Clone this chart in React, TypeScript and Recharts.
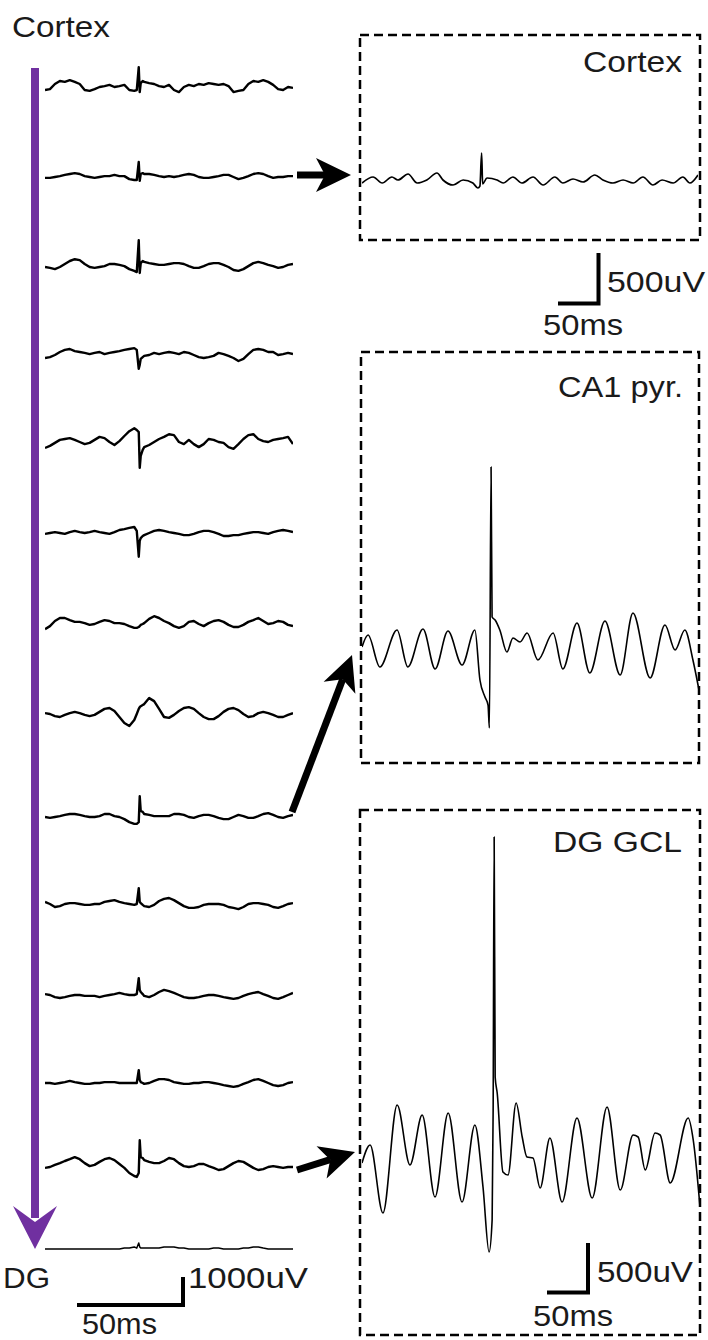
import React from "react";
import { LineChart, Line, XAxis, YAxis } from "recharts";

// time base for the depth profile (0-100 = full sweep, denser around the spike)
const T_LEFT = [
  0, 2, 4, 6, 8, 10, 12, 14, 16, 18, 20, 22, 24, 26, 28, 30, 32, 34, 36,
  37, 37.8, 38.2, 38.6, 39.4,
  40, 42, 44, 46, 48, 50, 52, 54, 56, 58, 60, 62, 64, 66, 68, 70, 72, 74, 76, 78, 80, 82, 84, 86, 88, 90, 92, 94, 96, 98, 100,
];

// LFP per channel, uV, cortex (CH01) down to DG (CH14)
const CH01 = [-100, -70, 100, 200, 170, 230, 170, 100, -100, -130, -70, 0, 30, 70, 0, 30, 70, -100, -130, -100, 660, -170, 130, 200, 170, 130, 100, 30, 0, 70, -100, -170, 0, 70, 30, 100, 70, 130, 100, 70, 100, 30, -170, -130, -100, 100, 200, 170, 230, 170, 70, -70, -100, 0, -30];
const CH02 = [-30, -30, 0, 30, 70, 100, 130, 100, 30, 0, -30, 0, 30, 30, 70, 30, 30, -70, -100, -100, 500, -130, 100, 130, 100, 100, 70, 30, 0, 30, 0, 30, 70, 100, 70, 0, -30, -30, 0, 30, 70, 70, 0, -70, -30, 30, 100, 130, 100, 30, -30, 0, 0, 30, 30];
const CH03 = [0, -30, -70, 0, 100, 200, 260, 230, 100, 0, -30, 0, 30, 100, 100, 70, 30, -70, -130, -170, 890, -200, 130, 200, 170, 130, 100, 70, 70, 100, 130, 130, 100, 30, -30, -30, 30, 100, 130, 130, 70, 0, -100, -130, -70, 30, 130, 170, 130, 70, 30, -30, 0, 70, 100];
const CH04 = [-100, -70, 0, 100, 170, 200, 130, 100, 70, 30, 70, 100, 30, 70, 100, 130, 170, 200, 230, 170, -460, -330, -130, -70, -30, 0, 70, 30, 70, 100, 70, 30, 100, 70, 0, -70, -100, -70, -30, 70, 30, -30, -100, -200, -130, 30, 170, 200, 170, 100, 100, 0, 30, 70, 30];
const CH05 = [-200, -130, -30, 70, 100, 130, 70, 0, -70, -30, 70, 170, 130, 0, -100, 30, 200, 360, 460, 400, 330, -860, -460, -260, -170, -100, 0, 100, 170, 260, 230, 0, -70, 70, -70, -170, -70, 100, 70, 0, -30, -170, -230, -70, 100, 230, 260, 100, 30, 0, 70, 100, 130, 170, -70];
const CH06 = [-30, 0, 30, 0, -30, 30, 70, 30, 0, 30, 70, 30, 0, -30, 30, 100, 130, 170, 200, 70, -790, -260, -170, -100, -70, 0, 70, 100, 70, 30, 0, -30, -70, -70, -30, 30, 70, 70, 30, -30, -100, -100, -70, -70, -30, 0, 30, 30, 0, -30, 30, 70, 100, 70, 30];
const CH07 = [-170, -70, 100, 200, 200, 130, 70, 70, 30, -30, 0, 70, 130, 100, 30, 30, 0, -70, -130, -130, -100, -70, -30, 0, 30, 170, 260, 200, 100, 30, -70, -130, -70, 70, 100, 0, -70, 30, 100, 130, 70, -30, -100, -100, -30, 70, 130, 200, 100, 0, 30, 100, 70, -30, -70];
const CH08 = [30, 0, -70, -100, -30, 30, 70, 30, -30, -70, -30, 70, 170, 200, 100, -100, -300, -400, -200, 0, 170, 230, 260, 300, 330, 530, 430, 170, -100, -130, -30, 100, 200, 230, 170, 30, -100, -170, -170, -70, 70, 170, 200, 130, 0, -100, -70, 30, 70, 30, -30, -100, -100, -30, 30];
const CH09 = [0, -30, 0, 30, 70, 100, 100, 70, 30, 0, 0, 30, 100, 100, 30, 0, -70, -170, -230, -230, -170, 690, 200, 170, 100, 70, 30, 30, 30, 30, 100, 100, 70, 0, -30, 30, 70, 70, 30, -30, -70, -70, 0, 70, 30, -30, -30, 30, 100, 130, 70, 0, -30, 30, 70];
const CH10 = [70, 0, -100, -70, 0, 30, 30, 0, -30, -30, 0, 0, 70, 100, 130, 70, 30, 0, -30, 0, 530, 70, 30, -30, -70, -100, -30, 100, 170, 200, 130, 30, -70, -130, -130, -100, -30, 0, 0, 0, -30, -100, -130, -170, -100, 0, 30, 30, 0, -30, -100, -130, -70, 0, 30];
const CH11 = [30, 0, -70, -100, -70, -30, 0, 0, -30, -30, -30, -70, -30, 0, 30, 70, 30, 0, 0, 30, 560, 170, 100, 30, -30, -70, 0, 100, 170, 130, 70, 0, -70, -100, -100, -70, -30, 0, 0, -30, -70, -100, -130, -100, -30, 30, 70, 100, 30, -30, -100, -130, -70, 0, 70];
const CH12 = [0, 0, -30, 0, 30, 70, 30, 0, -30, -30, 0, 0, 30, 30, 30, 0, 0, 0, 0, 0, 430, 100, 30, 0, -30, 0, 70, 130, 130, 100, 30, 0, -30, -30, 0, 0, 30, 30, 0, -30, -70, -100, -130, -100, -30, 30, 100, 130, 70, 0, -70, -100, -70, 0, 30];
const CH13 = [-30, 0, 70, 130, 200, 260, 330, 260, 130, 30, 70, 170, 260, 300, 230, 100, -30, -200, -300, -330, -200, 890, 330, 300, 230, 170, 130, 130, 200, 300, 260, 130, 30, 0, 30, 100, 100, 30, -30, -100, -70, 30, 130, 200, 170, 70, -30, -100, -70, 0, 30, 0, -30, 0, 0];
const CH14 = [0, 0, 0, 0, 0, 0, 0, 0, 0, 0, 0, 0, 0, 0, 0, 0, 30, 30, 70, 30, 200, 70, 30, 30, 30, 30, 30, 30, 70, 70, 70, 30, 30, 0, 0, 0, 0, 0, 30, 30, 0, 0, 0, 0, 30, 30, 70, 70, 30, 0, 0, 0, 0, 0, 0];

const CHANNELS = [CH01, CH02, CH03, CH04, CH05, CH06, CH07, CH08, CH09, CH10, CH11, CH12, CH13, CH14];

// expanded views (uV)
const CORTEX_T = [0, 3.3, 6, 8.9, 10.7, 13.7, 16.4, 19.3, 22.3, 24.1, 27.1, 30.1, 33, 34.5, 35.1, 35.6, 35.9, 37.2, 40.2, 42, 44.9, 47.6, 50.9, 53.9, 57.4, 59.8, 62.8, 65.8, 69.3, 71.7, 74.7, 77.7, 80.7, 83.6, 86.6, 89.3, 92.6, 95.5, 97.6, 100];
const CORTEX_V = [-20, 40, -20, 40, 10, 70, -20, 10, 80, 10, -40, 10, -20, -70, -50, 280, -30, 30, 10, -20, 40, -20, 40, -40, 40, -20, 20, -10, 60, 10, -20, 10, -20, 40, -40, 10, -20, 40, -20, 60];

const CA1_T = [0, 1.8, 5.3, 10.4, 13.6, 18.1, 21.7, 25.5, 29.7, 33.5, 35, 36.5, 37.4, 37.8, 38.3, 38.6, 39.5, 40.9, 43, 44.8, 46.9, 49, 52.2, 56.7, 59.6, 63.8, 67.6, 72.1, 76.6, 80.4, 85.5, 89.9, 92.9, 95.8, 98.2, 100];
const CA1_V = [30, 150, -170, 200, -170, 210, -190, 190, -150, 200, -300, -470, -550, -780, 1830, 330, 300, 200, -20, 120, 80, 170, -100, 170, -190, 270, -230, 290, -250, 370, -280, 250, 0, 200, -100, -400];

const DG_T = [0, 2.4, 6.2, 10.4, 14.2, 17.8, 21.6, 25.5, 29.6, 33.4, 35.8, 37.6, 38.5, 38.8, 39.1, 39.4, 40, 41.7, 43.2, 45.6, 47.4, 48.8, 50.6, 52.7, 55.6, 59.2, 63.6, 68.1, 72.5, 76.4, 80.2, 81.7, 83.8, 86.7, 88.2, 91.2, 96.5, 98, 100];
const DG_V = [-30, 150, -530, 550, -50, 450, -370, 470, -420, 350, -270, -920, -600, 500, 3230, 830, 670, -120, -150, 570, 230, 30, 20, -280, 220, -420, 420, -380, 530, -300, 250, 230, -100, 270, 250, -230, 420, 200, -470];

// layout
const ROW_BASE = [87, 177, 267, 355, 442, 533, 624, 714, 817, 904, 995, 1083, 1167, 1249];
const FONT = '"Liberation Sans", Arial, sans-serif';
const INK = "#1a1a1a";
const PURPLE = "#7030a0";

function Trace({ t, v, left, top, width, height, domain, sw, curve }: any) {
  const data = t.map((x: number, i: number) => ({ t: x, v: v[i] }));
  return (
    <div style={{ position: "absolute", left, top, width, height }}>
      <LineChart width={width} height={height} data={data} margin={{ top: 0, right: 0, bottom: 0, left: 0 }}>
        <XAxis type="number" dataKey="t" domain={[0, 100]} hide />
        <YAxis type="number" domain={domain} hide />
        <Line
          type={curve}
          dataKey="v"
          stroke="#000"
          strokeWidth={sw}
          strokeLinejoin="round"
          dot={false}
          activeDot={false}
          isAnimationActive={false}
        />
      </LineChart>
    </div>
  );
}

function Arrow({ x1, y1, x2, y2 }: any) {
  const dx = x2 - x1;
  const dy = y2 - y1;
  const len = Math.hypot(dx, dy);
  const ux = dx / len;
  const uy = dy / len;
  const L = 35, H = 17, n = 9;
  const bx = x2 - ux * L, by = y2 - uy * L;
  const nx = x2 - ux * (L - n), ny = y2 - uy * (L - n);
  const pts = [
    [x2, y2],
    [bx - uy * H, by + ux * H],
    [nx, ny],
    [bx + uy * H, by - ux * H],
  ].map((p) => p.join(",")).join(" ");
  return (
    <g>
      <line x1={x1} y1={y1} x2={nx} y2={ny} stroke="#000" strokeWidth={7} />
      <polygon points={pts} fill="#000" />
    </g>
  );
}

function Label({ x, y, w, children }: any) {
  return (
    <text x={x} y={y} fontSize={30} fill={INK} fontFamily={FONT} textLength={w} lengthAdjust="spacingAndGlyphs">
      {children}
    </text>
  );
}

export default function App() {
  return (
    <div style={{ position: "absolute", left: 0, top: 0, width: 708, height: 1340, background: "#fff", fontFamily: FONT }}>
      {CHANNELS.map((ch, i) => (
        <Trace
          key={i}
          t={T_LEFT}
          v={ch}
          left={45}
          top={ROW_BASE[i] - 45}
          width={248}
          height={90}
          domain={[-1500, 1500]}
          sw={i === 13 ? 1.5 : 2.4}
          curve="linear"
        />
      ))}

      <Trace t={CORTEX_T} v={CORTEX_V} left={362} top={35} width={336} height={205} domain={[-590, 1460]} sw={1.7} curve="monotone" />
      <Trace t={CA1_T} v={CA1_V} left={362} top={352} width={337} height={411} domain={[-1130, 2980]} sw={1.6} curve="monotone" />
      <Trace t={DG_T} v={DG_V} left={362} top={810} width={338} height={525} domain={[-1750, 3500]} sw={1.6} curve="monotone" />

      <svg width={708} height={1340} style={{ position: "absolute", left: 0, top: 0, pointerEvents: "none" }}>
        {/* depth arrow */}
        <rect x={31} y={68} width={8} height={1150} fill={PURPLE} />
        <polygon points="13,1206 35,1249 57,1206 35,1222" fill={PURPLE} />

        {/* zoom boxes */}
        <rect x={360} y={35} width={340} height={205} fill="none" stroke="#000" strokeWidth={2.5} strokeDasharray="9 5" />
        <rect x={361} y={352} width={338} height={411} fill="none" stroke="#000" strokeWidth={2.5} strokeDasharray="9 5" />
        <rect x={360} y={810} width={340} height={525} fill="none" stroke="#000" strokeWidth={2.5} strokeDasharray="9 5" />

        <Arrow x1={297} y1={175} x2={351} y2={175} />
        <Arrow x1={292} y1={812} x2={352} y2={655} />
        <Arrow x1={297} y1={1170} x2={355} y2={1152} />

        {/* scale bars */}
        <path d="M77,1305 H185 M183,1307 V1277" stroke="#000" strokeWidth={4} fill="none" />
        <path d="M558,303.5 H600.5 M598.5,305.5 V253" stroke="#000" strokeWidth={4} fill="none" />
        <path d="M547,1292.5 H590 M588,1294.5 V1243" stroke="#000" strokeWidth={4} fill="none" />

        {/* text */}
        <Label x={12} y={37} w={98}>Cortex</Label>
        <Label x={3} y={1288} w={47}>DG</Label>
        <Label x={188} y={1288} w={120}>1000uV</Label>
        <Label x={82} y={1334} w={75}>50ms</Label>

        <Label x={583} y={72} w={99}>Cortex</Label>
        <Label x={607} y={292} w={98}>500uV</Label>
        <Label x={543} y={335} w={80}>50ms</Label>

        <Label x={558} y={397} w={125}>CA1 pyr.</Label>

        <Label x={553} y={852} w={129}>DG GCL</Label>
        <Label x={597} y={1282} w={96}>500uV</Label>
        <Label x={533} y={1326} w={80}>50ms</Label>
      </svg>
    </div>
  );
}
